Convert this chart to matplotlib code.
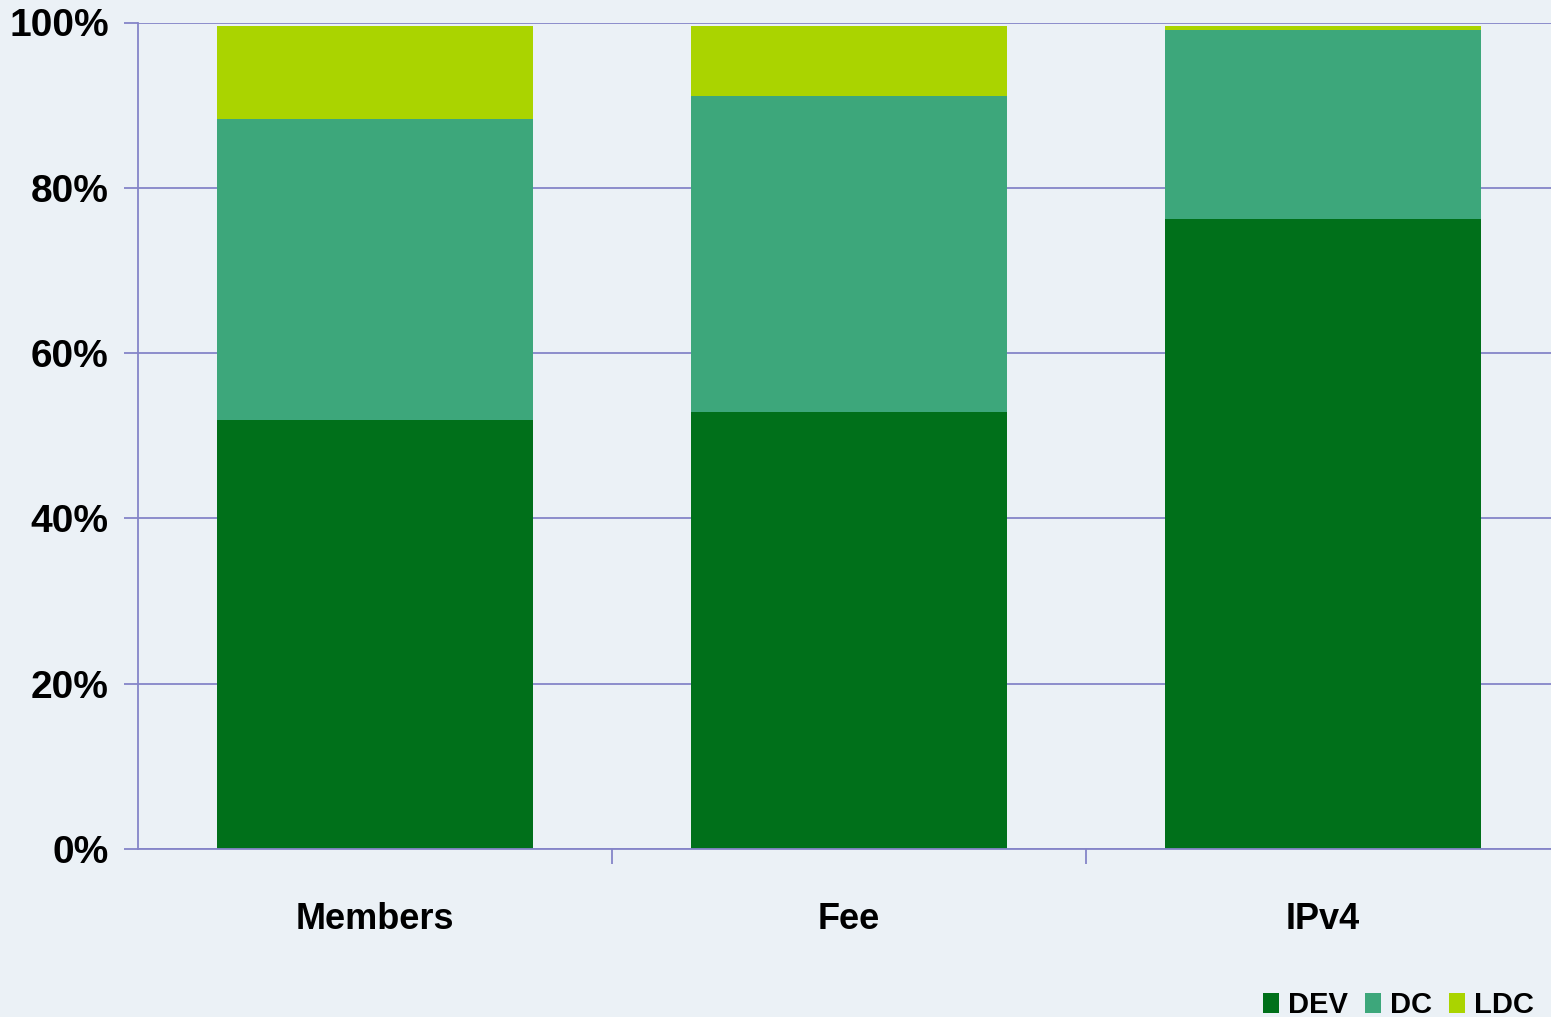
import matplotlib.pyplot as plt
import numpy as np

categories = ["Members", "Fee", "IPv4"]
dev = [51.9, 52.9, 76.2]
dc = [36.4, 38.2, 22.9]
ldc = [11.3, 8.5, 0.5]
series = ["DEV", "DC", "LDC"]
colors = ["#00701A", "#3DA77B", "#AAD400"]
yticks = [0, 20, 40, 60, 80, 100]

plt.rcParams["font.family"] = ["Liberation Sans", "DejaVu Sans"]

fig = plt.figure(figsize=(15.51, 10.17), dpi=100)
fig.patch.set_facecolor("#EBF1F6")
ax = fig.add_axes([138 / 1551, 1 - 849 / 1017, (1560 - 138) / 1551, (849 - 22.5) / 1017])
ax.set_facecolor("none")

x = np.arange(len(categories))
bottom = np.zeros(len(categories))
for name, vals, c in zip(series, [dev, dc, ldc], colors):
    ax.bar(x, vals, width=0.667, bottom=bottom, color=c, label=name, zorder=2)
    bottom += np.array(vals)

ax.set_xlim(-0.5, 2.5)
ax.set_ylim(0, 100)
ax.set_yticks(yticks)
ax.set_yticklabels([f"{t}%" for t in yticks], fontsize=28, fontweight="bold")
ax.yaxis.grid(True, color="#8585C8", linewidth=1.3, zorder=1)
ax.set_xticks(x)
ax.set_xticklabels(categories, fontsize=26, fontweight="bold")
ax.tick_params(axis="x", length=0, pad=38)
ax.tick_params(axis="y", length=10, color="#8585C8", width=1.3, pad=11)
ax.set_xticks([0.5, 1.5], minor=True)
ax.tick_params(axis="x", which="minor", length=11, color="#8585C8", width=1.3)

for s in ["top", "right"]:
    ax.spines[s].set_visible(False)
for s in ["left", "bottom"]:
    ax.spines[s].set_color("#8585C8")
    ax.spines[s].set_linewidth(1.3)

leg = fig.legend(loc="lower right", bbox_to_anchor=(1.006, -0.028), ncol=3,
                 frameon=False, prop={"weight": "bold", "size": 21},
                 handlelength=0.55, handleheight=0.7, handletextpad=0.3,
                 columnspacing=0.6)

fig.savefig("out.png", dpi=100, facecolor=fig.get_facecolor())
